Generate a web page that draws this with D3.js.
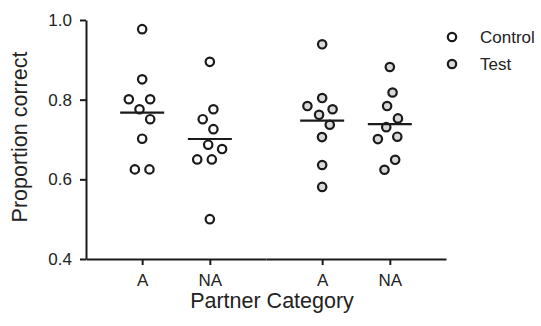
<!DOCTYPE html>
<html>
<head>
<meta charset="utf-8">
<script src="https://cdn.jsdelivr.net/npm/d3@7"></script>
<style>
  body { margin: 0; background: #fff; }
  text { font-family: "Liberation Sans", Arial, sans-serif; fill: #222; }
</style>
</head>
<body>
<div id="chart"></div>
<script>
const W = 541;
const H = 326;

const conditions = ["Control", "Test"];
const partners = ["A", "NA"];
const yTicks = [0.4, 0.6, 0.8, 1.0];

// proportion correct per subject
const controlA = [0.977, 0.851, 0.801, 0.801, 0.776, 0.751, 0.702, 0.625, 0.625];
const controlNA = [0.895, 0.776, 0.751, 0.726, 0.687, 0.676, 0.650, 0.650, 0.500];
const testA = [0.939, 0.804, 0.784, 0.776, 0.762, 0.737, 0.706, 0.636, 0.581];
const testNA = [0.882, 0.818, 0.784, 0.753, 0.731, 0.707, 0.701, 0.649, 0.624];

const groups = [
  { condition: "Control", partner: "A", values: controlA },
  { condition: "Control", partner: "NA", values: controlNA },
  { condition: "Test", partner: "A", values: testA },
  { condition: "Test", partner: "NA", values: testNA },
];

const fills = { Control: "#ffffff", Test: "#d9d9d9" };
const ink = "#1a1a1a";

const svg = d3.select("#chart").append("svg")
  .attr("width", W)
  .attr("height", H);

const y = d3.scaleLinear().domain([0.4, 1.0]).range([259, 20]);
const outer = d3.scaleBand().domain(conditions).range([86, 446]);
const inner = d3.scalePoint().domain(partners).range([0, outer.bandwidth()]).padding(0.83);

const cx = g => outer(g.condition) + inner(g.partner);

// y axis
svg.append("g")
  .attr("transform", "translate(86,0)")
  .call(d3.axisLeft(y).tickValues(yTicks).tickFormat(d3.format(".1f"))
    .tickSize(6).tickSizeOuter(0).tickPadding(8));

// x axis, one per condition so the baseline runs continuously
conditions.forEach(c => {
  const sub = inner.copy().range([outer(c), outer(c) + outer.bandwidth()]);
  svg.append("g")
    .attr("transform", "translate(0,259)")
    .call(d3.axisBottom(sub).tickSize(6).tickSizeOuter(0).tickPadding(9));
});

svg.selectAll(".domain, .tick line")
  .attr("stroke", ink)
  .attr("stroke-width", 2);
svg.selectAll(".tick text")
  .attr("font-size", 17)
  .attr("fill", "#222");

// beeswarm layout per group
groups.forEach(g => {
  const x0 = cx(g);
  const nodes = g.values.map((v, i) => ({ v, x: x0 + (i % 2 ? 0.5 : -0.5), fy: y(v) }));
  const sim = d3.forceSimulation(nodes)
    .force("x", d3.forceX(x0).strength(0.1))
    .force("collide", d3.forceCollide(7.3).iterations(3))
    .stop();
  for (let i = 0; i < 300; i++) sim.tick();
  g.nodes = nodes;
});

const plot = svg.append("g");

plot.selectAll("g.group")
  .data(groups)
  .join("g")
  .attr("class", "group")
  .each(function (g) {
    const sel = d3.select(this);
    sel.selectAll("circle")
      .data(g.nodes)
      .join("circle")
      .attr("cx", d => d.x)
      .attr("cy", d => d.fy)
      .attr("r", 4.2)
      .attr("fill", fills[g.condition])
      .attr("stroke", ink)
      .attr("stroke-width", 2.2);
    const m = d3.mean(g.values);
    sel.append("line")
      .attr("x1", cx(g) - 22)
      .attr("x2", cx(g) + 22)
      .attr("y1", y(m))
      .attr("y2", y(m))
      .attr("stroke", ink)
      .attr("stroke-width", 2.2);
  });

// axis titles
svg.append("text")
  .attr("transform", "translate(27,137) rotate(-90)")
  .attr("text-anchor", "middle")
  .attr("font-size", 21.5)
  .text("Proportion correct");

svg.append("text")
  .attr("x", 272)
  .attr("y", 308)
  .attr("text-anchor", "middle")
  .attr("font-size", 21.5)
  .text("Partner Category");

// legend
const legend = svg.append("g")
  .selectAll("g")
  .data(conditions)
  .join("g")
  .attr("transform", (d, i) => `translate(452,${37 + i * 27})`);

legend.append("circle")
  .attr("r", 4.2)
  .attr("fill", d => fills[d])
  .attr("stroke", ink)
  .attr("stroke-width", 2.2);

legend.append("text")
  .attr("x", 28)
  .attr("dy", "0.35em")
  .attr("font-size", 17)
  .text(d => d);
</script>
</body>
</html>
